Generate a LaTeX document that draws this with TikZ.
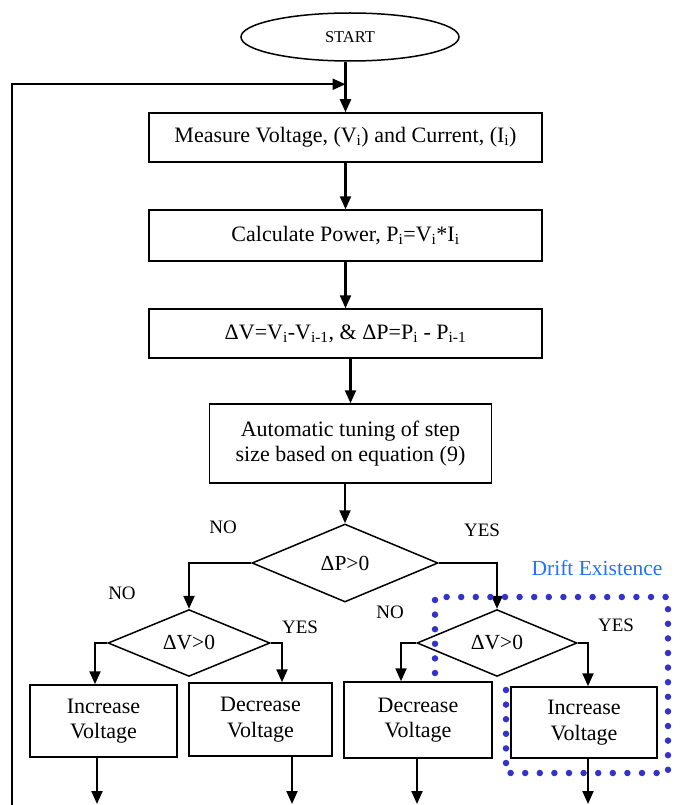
\documentclass[tikz,border=0pt]{standalone}
\usepackage{fontspec}
\setmainfont{Liberation Serif}
\usetikzlibrary{shapes.geometric,arrows.meta}
\definecolor{driftblue}{RGB}{30,115,255}
\definecolor{dotblue}{RGB}{51,51,204}
\begin{document}
\begin{tikzpicture}[x=1pt,y=-1pt,
  box/.style={draw,line width=1.5pt,rectangle,inner sep=0pt,align=center,font=\fontsize{22}{25.5}\selectfont},
  dia/.style={draw,line width=1.5pt,diamond,inner sep=0pt,font=\fontsize{21.5}{25}\selectfont},
  lbl/.style={inner sep=0pt,font=\fontsize{19}{22}\selectfont},
  arr/.style={line width=2.2pt,-{Triangle[length=13pt,width=11pt]}},
  drift/.style={draw=dotblue,line width=6.5pt,line cap=round,dash pattern=on 0pt off 14.6pt}
]
\useasboundingbox (0,0) rectangle (680,805);
\node[ellipse,draw,line width=1.5pt,minimum width=218pt,minimum height=48pt,inner sep=0pt,font=\fontsize{16.5}{20}\selectfont] (start) at (350,37) {START};
\node[box,minimum width=393pt,minimum height=49pt] (b1) at (345.5,137.5) {Measure Voltage, (V\textsubscript{i}) and Current, (I\textsubscript{i})};
\node[box,minimum width=393pt,minimum height=51pt] (b2) at (345.5,235.5) {Calculate Power, P\textsubscript{i}=V\textsubscript{i}*I\textsubscript{i}};
\node[box,minimum width=393pt,minimum height=49pt] (b3) at (345.5,333.5) {ΔV=V\textsubscript{i}-V\textsubscript{i-1}, \& ΔP=P\textsubscript{i} - P\textsubscript{i-1}};
\node[box,minimum width=282pt,minimum height=79pt] (b4) at (350.5,443.5) {Automatic tuning of step\\size based on equation (9)};
\node[dia,minimum width=186pt,minimum height=78pt] (d1) at (345,563) {ΔP>0};
\node[dia,minimum width=162pt,minimum height=63pt] (d2) at (189,643) {ΔV>0};
\node[dia,minimum width=160pt,minimum height=63pt] (d3) at (497,643) {ΔV>0};
\node[box,minimum width=147pt,minimum height=72pt] (inc1) at (103.5,721) {Increase\\Voltage};
\node[box,minimum width=143pt,minimum height=73pt] (dec1) at (260.5,719.5) {Decrease\\Voltage};
\node[box,minimum width=148pt,minimum height=76pt] (dec2) at (418,720) {Decrease\\Voltage};
\node[box,minimum width=146pt,minimum height=71pt] (inc2) at (584,722.5) {Increase\\Voltage};
% labels
\node[lbl] (no1) at (223,527) {NO};
\node[lbl] (yes1) at (482,530) {YES};
\node[lbl] (no2) at (122,593) {NO};
\node[lbl] (yes2) at (300,627) {YES};
\node[lbl] (no3) at (390,612) {NO};
\node[lbl] (yes3) at (616,625) {YES};
\node[lbl,text=driftblue,font=\fontsize{21.5}{25}\selectfont] (drift) at (597,568) {Drift Existence};
% connectors
\coordinate (fb) at (12,805);
\path (b1.north) ++(0,-28) coordinate (join);
\draw[arr] (b1.north |- start.south) -- (b1.north);
\draw[arr] (fb) |- (join);
\draw[arr] (b1) -- (b2);
\draw[arr] (b2) -- (b3);
\draw[arr] (b3.south -| b4.north) -- (b4.north);
\draw[arr] (b4.south -| d1.north) -- (d1.north);
\draw[arr] (d1.west) -| (d2.north);
\draw[arr] (d1.east) -| (d3.north);
\draw[arr] (d2.west) -| ([xshift=-8.5pt]inc1.north);
\draw[arr] (d2.east) -| ([xshift=21.5pt]dec1.north);
\draw[arr] (d3.west) -| ([xshift=-17pt]dec2.north);
\draw[arr] (d3.east) -| ([xshift=4pt]inc2.north);
\coordinate (e1) at (97,804);
\coordinate (e2) at (292,804);
\coordinate (e3) at (417,804);
\coordinate (e4) at (588,804);
\draw[arr] (inc1.south -| e1) -- (e1);
\draw[arr] (dec1.south -| e2) -- (e2);
\draw[arr] (dec2.south -| e3) -- (e3);
\draw[arr] (inc2.south -| e4) -- (e4);
% drift region
\draw[drift] (435,673) -- (435,597) -- (668,597) -- (668,773) -- (506,773) -- (506,686) -- (497,686);
\end{tikzpicture}
\end{document}
